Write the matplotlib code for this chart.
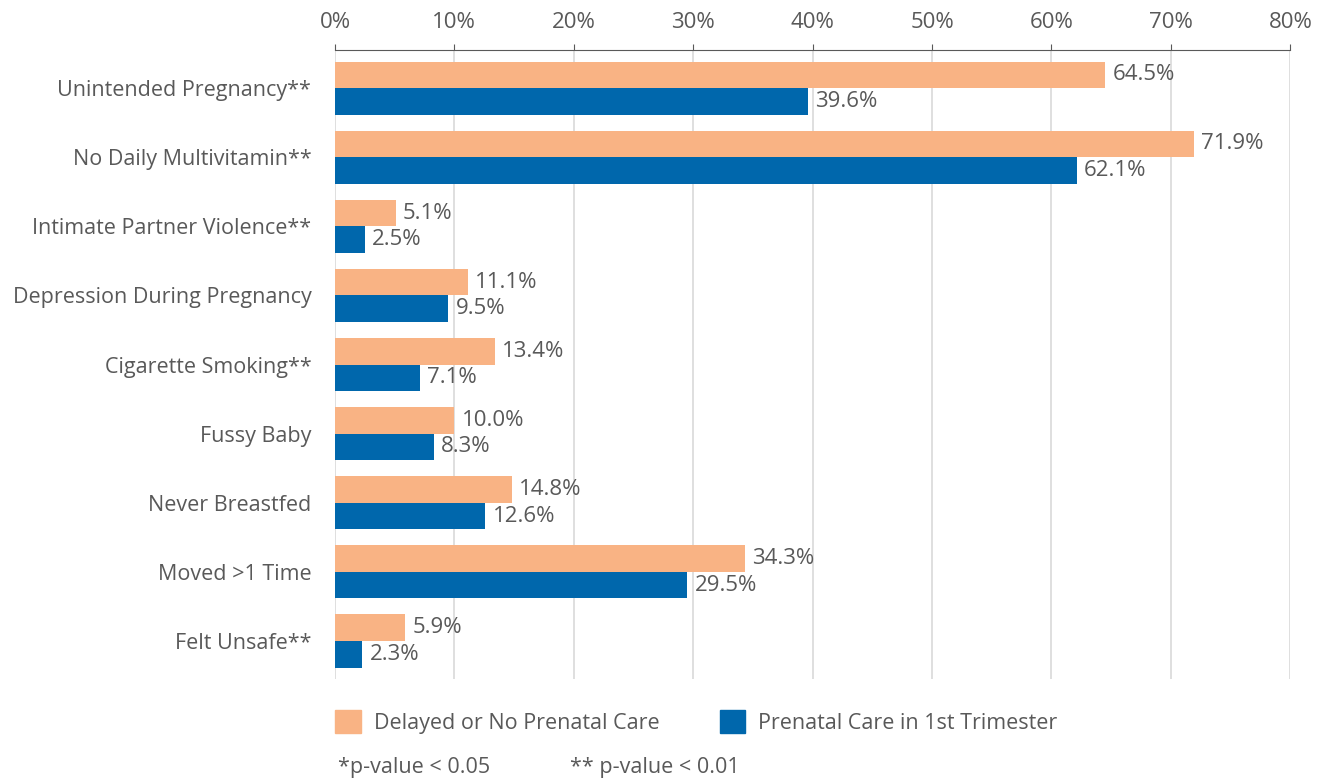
import matplotlib
matplotlib.use("Agg")
import matplotlib.pyplot as plt
from matplotlib.patches import Patch
import numpy as np

categories = ["Unintended Pregnancy**", "No Daily Multivitamin**", "Intimate Partner Violence**",
              "Depression During Pregnancy", "Cigarette Smoking**", "Fussy Baby",
              "Never Breastfed", "Moved >1 Time", "Felt Unsafe**"]
delayed = [64.5, 71.9, 5.1, 11.1, 13.4, 10.0, 14.8, 34.3, 5.9]
first_tri = [39.6, 62.1, 2.5, 9.5, 7.1, 8.3, 12.6, 29.5, 2.3]
series_names = ["Delayed or No Prenatal Care", "Prenatal Care in 1st Trimester"]
xticks = [0, 10, 20, 30, 40, 50, 60, 70, 80]

C_OR = "#F9B384"
C_BL = "#0067AC"
TXT = "#595959"

plt.rcParams['font.family'] = ['Open Sans', 'DejaVu Sans']

fig = plt.figure(figsize=(13.26, 7.82), dpi=100)
ax = fig.add_axes([0.2526, 0.1317, 0.7205, 0.8043])

y = np.arange(len(categories))
h = 0.384
ax.barh(y - h/2, delayed, height=h, color=C_OR, zorder=3)
ax.barh(y + h/2, first_tri, height=h, color=C_BL, zorder=3)

VFS = 16
for yi, v in zip(y, delayed):
    ax.text(v + 0.6, yi - h/2, f"{v:.1f}%", va="center", ha="left", fontsize=VFS, color=TXT)
for yi, v in zip(y, first_tri):
    ax.text(v + 0.6, yi + h/2, f"{v:.1f}%", va="center", ha="left", fontsize=VFS, color=TXT)

ax.set_xlim(0, 80)
ax.set_ylim(len(categories) - 0.45, -0.55)
ax.set_yticks(y)
ax.set_yticklabels(categories, fontsize=15.5, color=TXT)
ax.tick_params(axis="y", length=0, pad=17)
ax.xaxis.tick_top()
ax.set_xticks(xticks)
ax.set_xticklabels([f"{t}%" for t in xticks], fontsize=16, color=TXT)
ax.tick_params(axis="x", length=4, color="#595959", pad=8)
ax.grid(axis="x", color="#D9D9D9", linewidth=1.2, zorder=0)
for s in ["right", "bottom", "left"]:
    ax.spines[s].set_visible(False)
ax.spines["top"].set_color("#595959")

handles = [Patch(color=C_OR), Patch(color=C_BL)]
fig.legend(handles, series_names, loc="lower left", bbox_to_anchor=(0.238, 0.037), ncol=2,
           frameon=False, fontsize=15.5, labelcolor=TXT, handlelength=1.2, handleheight=1.3,
           columnspacing=2.8, handletextpad=0.6)

fig.text(338/1326, 1 - 768/782, "*p-value < 0.05", fontsize=15.5, color=TXT, va="center", ha="left")
fig.text(570/1326, 1 - 768/782, "** p-value < 0.01", fontsize=15.5, color=TXT, va="center", ha="left")

fig.savefig("out.png", dpi=100)
